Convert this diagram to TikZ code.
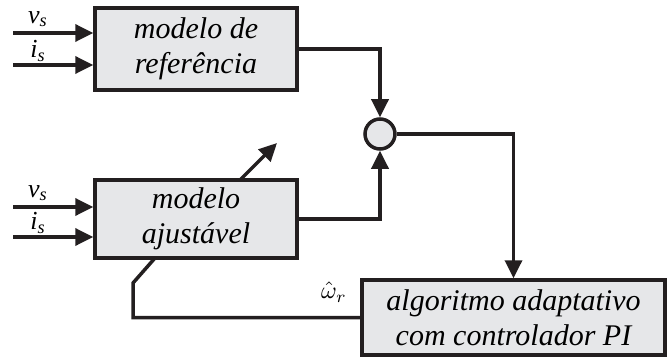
\documentclass[tikz,border=0pt]{standalone}
\usepackage{fontspec}
\setmainfont{Liberation Serif}
\usetikzlibrary{arrows.meta, positioning, calc}
\definecolor{blockgray}{RGB}{230, 231, 233}
\definecolor{ink}{RGB}{35, 31, 32}

\begin{document}
\begin{tikzpicture}[x=0.5pt, y=-0.5pt,
  block/.style={draw=ink, fill=blockgray, line width=1.75pt, align=center, inner sep=0pt,
    font=\fontsize{15}{17.5}\selectfont\itshape},
  wire/.style={draw=ink, line width=1.75pt},
  arr/.style={wire, -{Triangle[length=9pt, width=8.5pt]}},
  sig/.style={font=\fontsize{13}{14}\selectfont\itshape, inner sep=0pt},
]
\useasboundingbox (0,0) rectangle (668,358);

% Blocks
\node[block, minimum width=101pt, minimum height=41pt] (ref) at (196, 49) {modelo de\\referência};
\node[block, minimum width=101pt, minimum height=39pt] (ajust) at (196, 219) {modelo\\ajustável};
\node[block, minimum width=151.5pt, minimum height=37.5pt] (alg) at (513.5, 317.5) {algoritmo adaptativo\\com controlador PI};
\node[block, circle, minimum size=15pt] (sum) at (380, 134) {};

% Inputs
\coordinate (vsA) at (13, 33);
\coordinate (isA) at (13, 65);
\coordinate (vsB) at (13, 207);
\coordinate (isB) at (13, 237);
\draw[arr] (vsA) -- (vsA -| ref.west);
\draw[arr] (isA) -- (isA -| ref.west);
\draw[arr] (vsB) -- (vsB -| ajust.west);
\draw[arr] (isB) -- (isB -| ajust.west);
\node[sig] (vsAl) at (38, 19) {v\textsubscript{s}};
\node[sig] (isAl) at (38, 51) {i\textsubscript{s}};
\node[sig] (vsBl) at (38, 193) {v\textsubscript{s}};
\node[sig] (isBl) at (38, 223) {i\textsubscript{s}};

% Error at the summing junction
\draw[arr] (ref.east) -| (sum.north);
\coordinate (ajOut) at (ajust.east |- 0, 219);
\draw[arr] (ajOut) -| (sum.south);
\draw[arr] (sum.east) -| (alg.north);

% Adjusting arrow across the block
\coordinate (adjA) at (240, 180);
\coordinate (adjB) at (277, 143);
\draw[arr] (adjA) -- (adjB);

% Speed estimate fed back
\coordinate (fbA) at (155, 258);
\coordinate (fbB) at (133, 283);
\draw[wire] (alg.west) -| (fbB) -- (fbA);
\node[scale=1.2] (wr) at (334, 292) {$\hat{\omega}_r$};
\end{tikzpicture}
\end{document}
